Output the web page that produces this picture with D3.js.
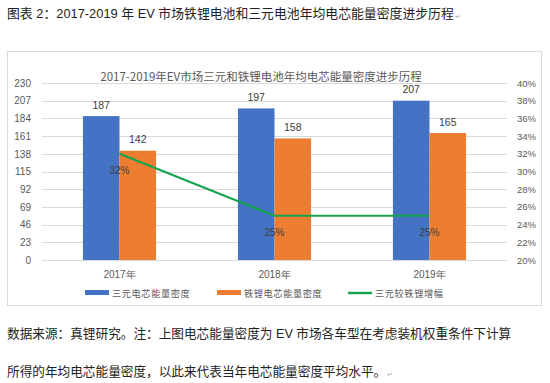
<!DOCTYPE html>
<html><head><meta charset="utf-8">
<script src="https://cdn.jsdelivr.net/npm/d3@7"></script>
<style>
html,body{margin:0;padding:0;background:#fff;}
svg{display:block;font-family:"Noto Sans CJK SC","Liberation Sans",sans-serif;}
</style></head>
<body>
<svg id="c" width="550" height="383"></svg>
<script>
const categories = ["2017年", "2018年", "2019年"];
const ternaryDensity = [187, 197, 207];
const lfpDensity = [142, 158, 165];
const ternaryGain = [0.32, 0.25, 0.25];
const leftTicks = [0, 23, 46, 69, 92, 115, 138, 161, 184, 207, 230];
const rightTicks = [0.20, 0.22, 0.24, 0.26, 0.28, 0.30, 0.32, 0.34, 0.36, 0.38, 0.40];
const seriesNames = ["三元电芯能量密度", "铁锂电芯能量密度", "三元较铁锂增幅"];
const headerText = "图表 2：2017-2019 年 EV 市场铁锂电池和三元电池年均电芯能量密度进步历程";
const chartTitle = "2017-2019年EV市场三元和铁锂电池年均电芯能量密度进步历程";
const footerLines = [
  "数据来源：真锂研究。注：上图电芯能量密度为 EV 市场各车型在考虑装机权重条件下计算",
  "所得的年均电芯能量密度，以此来代表当年电芯能量密度平均水平。"
];

const colors = {blue: "#4472C4", orange: "#ED7D31", green: "#13A54B"};
const svg = d3.select("#c");
const docFont = "'Liberation Sans', 'Noto Sans CJK SC', sans-serif";

function fitWidth(sel, target) {
  const fs = +sel.attr("font-size");
  const w = sel.node().getComputedTextLength();
  sel.attr("font-size", fs * target / w);
  return sel;
}
function paraMark(sel, dy) {
  const x0 = +sel.attr("x") + sel.node().getComputedTextLength() + 1;
  svg.append("text").attr("x", x0).attr("y", +sel.attr("y") + dy)
    .attr("font-size", 7).attr("fill", "#aaa").text("↵");
}

// header
const h = svg.append("text").attr("x", 7).attr("y", 18)
  .attr("font-size", 14).attr("fill", "#222").attr("font-family", docFont).text(headerText);
fitWidth(h, 447);
paraMark(h, 1);

// frame
svg.append("rect").attr("x", 7.5).attr("y", 51.5).attr("width", 534).attr("height", 254)
  .attr("fill", "#fff").attr("stroke", "#d9d9d9");

const plot = {left: 42, right: 507, top: 83, bottom: 260};
const y = d3.scaleLinear().domain([0, 230]).range([plot.bottom, plot.top]);
const y2 = d3.scaleLinear().domain([0.20, 0.40]).range([plot.bottom, plot.top]);
const x = d3.scaleBand().domain(categories).range([plot.left, plot.right]);
const bw = x.bandwidth() * 0.236;
const cx = d => x(d) + x.bandwidth() / 2;

// chart title
const t = svg.append("text").attr("x", 261).attr("y", 80.5).attr("text-anchor", "middle")
  .attr("font-size", 12).attr("fill", "#595959").text(chartTitle);
fitWidth(t, 322);

// gridlines
svg.append("g").selectAll("line").data(leftTicks).join("line")
  .attr("x1", plot.left).attr("x2", plot.right)
  .attr("y1", d => Math.round(y(d)) + 0.5).attr("y2", d => Math.round(y(d)) + 0.5)
  .attr("stroke", "#d9d9d9").attr("stroke-width", 1);

// left axis
const leftAxis = d3.axisLeft(y).tickValues(leftTicks).tickSize(0).tickPadding(0);
const gl = svg.append("g").attr("transform", `translate(31,0)`).call(leftAxis);
gl.select(".domain").remove();
gl.selectAll("text").attr("font-size", 10).attr("fill", "#595959")
  .attr("font-family", "Liberation Sans, sans-serif");

// right axis
const rightAxis = d3.axisRight(y2).tickValues(rightTicks).tickSize(0).tickPadding(0).tickFormat(d3.format(".0%"));
const gr = svg.append("g").attr("transform", `translate(517,0)`).call(rightAxis);
gr.select(".domain").remove();
gr.selectAll("text").attr("font-size", 9.5).attr("fill", "#595959")
  .attr("font-family", "Liberation Sans, sans-serif");

// x axis labels
const xAxis = d3.axisBottom(x).tickSize(0).tickPadding(0);
const gx = svg.append("g").attr("transform", `translate(0,${plot.bottom + 11})`).call(xAxis);
gx.select(".domain").remove();
gx.selectAll("text").attr("font-size", 10).attr("fill", "#595959");

// bars
svg.append("g").selectAll("rect").data(categories).join("rect")
  .attr("x", d => cx(d) - bw).attr("width", bw)
  .attr("y", (d, i) => y(ternaryDensity[i])).attr("height", (d, i) => plot.bottom - y(ternaryDensity[i]))
  .attr("fill", colors.blue);
svg.append("g").selectAll("rect").data(categories).join("rect")
  .attr("x", d => cx(d)).attr("width", bw)
  .attr("y", (d, i) => y(lfpDensity[i])).attr("height", (d, i) => plot.bottom - y(lfpDensity[i]))
  .attr("fill", colors.orange);

// bar labels
const lblFont = "Liberation Sans, sans-serif";
svg.append("g").selectAll("text").data(categories).join("text")
  .attr("x", d => cx(d) - bw / 2).attr("y", (d, i) => y(ternaryDensity[i]) - 7.5)
  .attr("text-anchor", "middle").attr("font-size", 10.5).attr("fill", "#404040")
  .attr("font-family", lblFont).text((d, i) => ternaryDensity[i]);
svg.append("g").selectAll("text").data(categories).join("text")
  .attr("x", d => cx(d) + bw / 2).attr("y", (d, i) => y(lfpDensity[i]) - 7.5)
  .attr("text-anchor", "middle").attr("font-size", 10.5).attr("fill", "#404040")
  .attr("font-family", lblFont).text((d, i) => lfpDensity[i]);

// line
const line = d3.line().x((d, i) => cx(categories[i])).y(d => y2(d));
svg.append("path").datum(ternaryGain).attr("d", line)
  .attr("fill", "none").attr("stroke", colors.green).attr("stroke-width", 2.2);
svg.append("g").selectAll("text").data(ternaryGain).join("text")
  .attr("x", (d, i) => cx(categories[i])).attr("y", d => y2(d) + 20)
  .attr("text-anchor", "middle").attr("font-size", 10).attr("fill", "#404040")
  .attr("font-family", lblFont).text(d => d3.format(".0%")(d));

// legend
const legend = [
  {name: seriesNames[0], color: colors.blue, x: 85, type: "bar"},
  {name: seriesNames[1], color: colors.orange, x: 217, type: "bar"},
  {name: seriesNames[2], color: colors.green, x: 348, type: "line"}
];
const lg = svg.append("g").selectAll("g").data(legend).join("g")
  .attr("transform", d => `translate(${d.x},293)`);
lg.append("rect").attr("x", 0).attr("y", d => d.type === "bar" ? -3 : -1.2)
  .attr("width", 24).attr("height", d => d.type === "bar" ? 5 : 2.4).attr("fill", d => d.color);
lg.append("text").attr("x", 27).attr("y", 4).attr("font-size", 9.2).attr("letter-spacing", 0.6)
  .attr("fill", "#595959").text(d => d.name);

// footer
const ft = svg.append("g").selectAll("text").data(footerLines).join("text")
  .attr("x", 7).attr("y", (d, i) => 338 + i * 38)
  .attr("font-size", 13).attr("fill", "#222").attr("font-family", docFont).text(d => d);
fitWidth(d3.select(ft.nodes()[0]), 505);
d3.select(ft.nodes()[1]).attr("font-size", d3.select(ft.nodes()[0]).attr("font-size"));
paraMark(d3.select(ft.nodes()[1]), 1);
</script>
</body></html>
